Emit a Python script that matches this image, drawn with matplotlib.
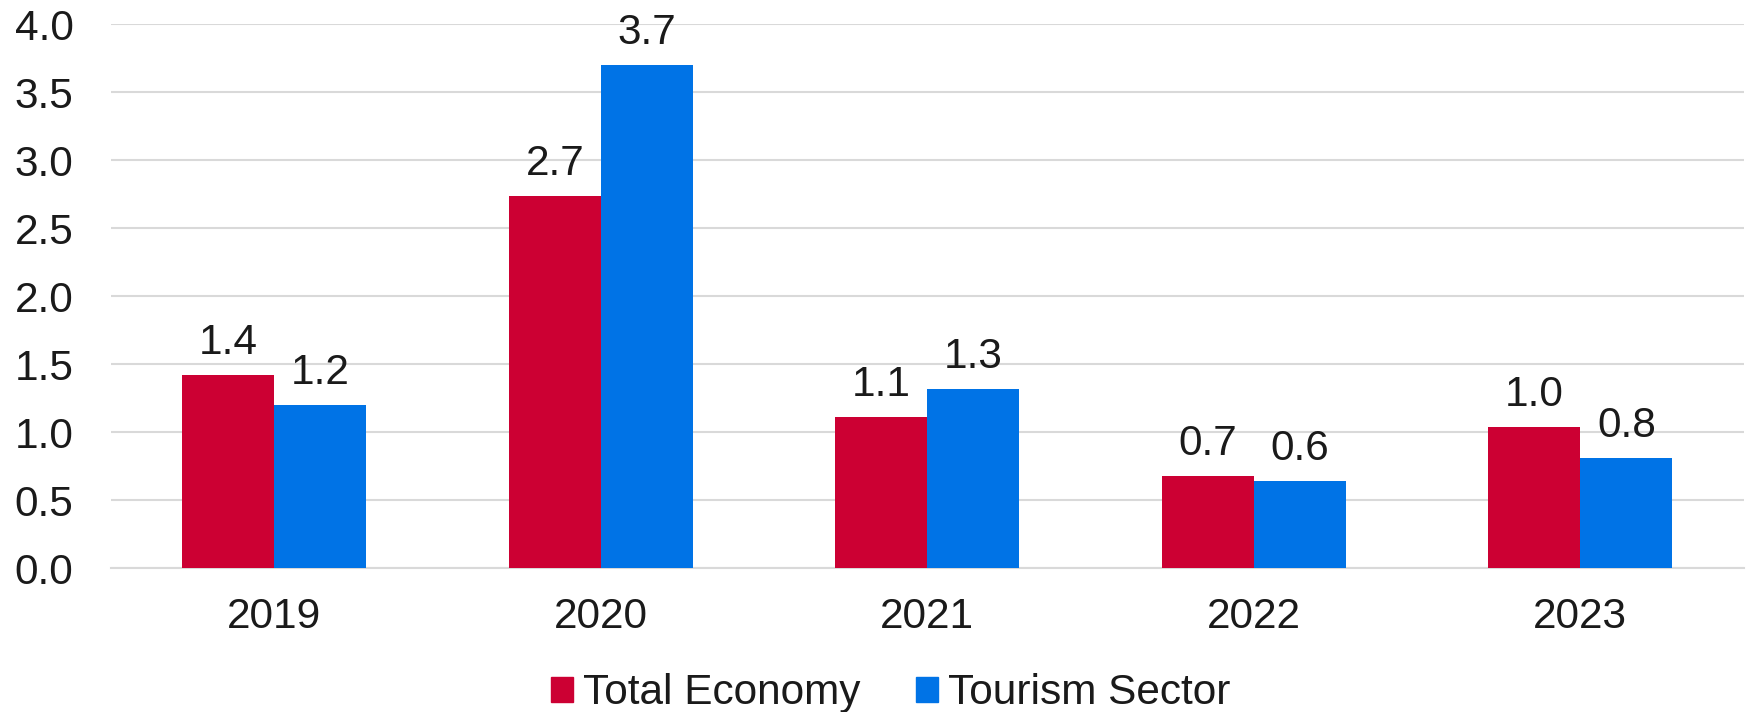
import matplotlib.pyplot as plt
import matplotlib.patches as mpatches
import numpy as np

plt.rcParams["font.family"] = ["Liberation Sans", "DejaVu Sans"]

YEARS = ["2019", "2020", "2021", "2022", "2023"]
TOTAL_ECONOMY = [1.42, 2.74, 1.11, 0.68, 1.04]
TOURISM_SECTOR = [1.20, 3.70, 1.32, 0.64, 0.81]

C_TOTAL = "#CC0033"
C_TOURISM = "#0073E6"
GRID = "#D9D9D9"
TEXT = "#1A1A1A"
FS = 30.5


def label_bars(ax, bars, values):
    for bar, val in zip(bars, values):
        ax.annotate(
            f"{val:.1f}",
            xy=(bar.get_x() + bar.get_width() / 2, bar.get_height()),
            xytext=(0, 15),
            textcoords="offset points",
            ha="center",
            va="baseline",
            fontsize=FS,
            color=TEXT,
        )


def main() -> None:
    fig = plt.figure(figsize=(17.46, 7.12), dpi=100)
    ax = fig.add_axes([0.0636, 0.2022, 0.935, 0.7634])

    x = np.arange(len(YEARS))
    w = 0.282
    b1 = ax.bar(x - w / 2, TOTAL_ECONOMY, w, color=C_TOTAL, zorder=3)
    b2 = ax.bar(x + w / 2, TOURISM_SECTOR, w, color=C_TOURISM, zorder=3)
    label_bars(ax, b1, TOTAL_ECONOMY)
    label_bars(ax, b2, TOURISM_SECTOR)

    ax.set_xlim(-0.5, len(YEARS) - 0.5)
    ax.set_ylim(0, 4.0)
    ax.set_yticks(np.arange(0, 4.01, 0.5))
    ax.yaxis.set_major_formatter(plt.FormatStrFormatter("%.1f"))
    ax.set_xticks(x)
    ax.set_xticklabels(YEARS)

    ax.grid(axis="y", color=GRID, linewidth=1.5, zorder=0)
    ax.set_axisbelow(True)
    for side in ["top", "right", "left"]:
        ax.spines[side].set_visible(False)
    ax.spines["bottom"].set_color(GRID)
    ax.spines["bottom"].set_linewidth(1.5)

    ax.tick_params(axis="x", length=0, pad=21, labelsize=FS, labelcolor=TEXT)
    ax.tick_params(axis="y", length=0, pad=27, labelsize=FS, labelcolor=TEXT)

    handles = [
        mpatches.Patch(color=C_TOTAL, label="Total Economy"),
        mpatches.Patch(color=C_TOURISM, label="Tourism Sector"),
    ]
    fig.legend(
        handles=handles,
        loc="center",
        bbox_to_anchor=(0.51, 0.026),
        ncol=2,
        frameon=False,
        fontsize=FS,
        handlelength=0.52,
        handleheight=0.52,
        handletextpad=0.24,
        columnspacing=1.3,
        borderaxespad=0,
        borderpad=0,
        labelcolor=TEXT,
    )

    fig.savefig("out.png", dpi=100)
    plt.close(fig)


if __name__ == "__main__":
    main()
